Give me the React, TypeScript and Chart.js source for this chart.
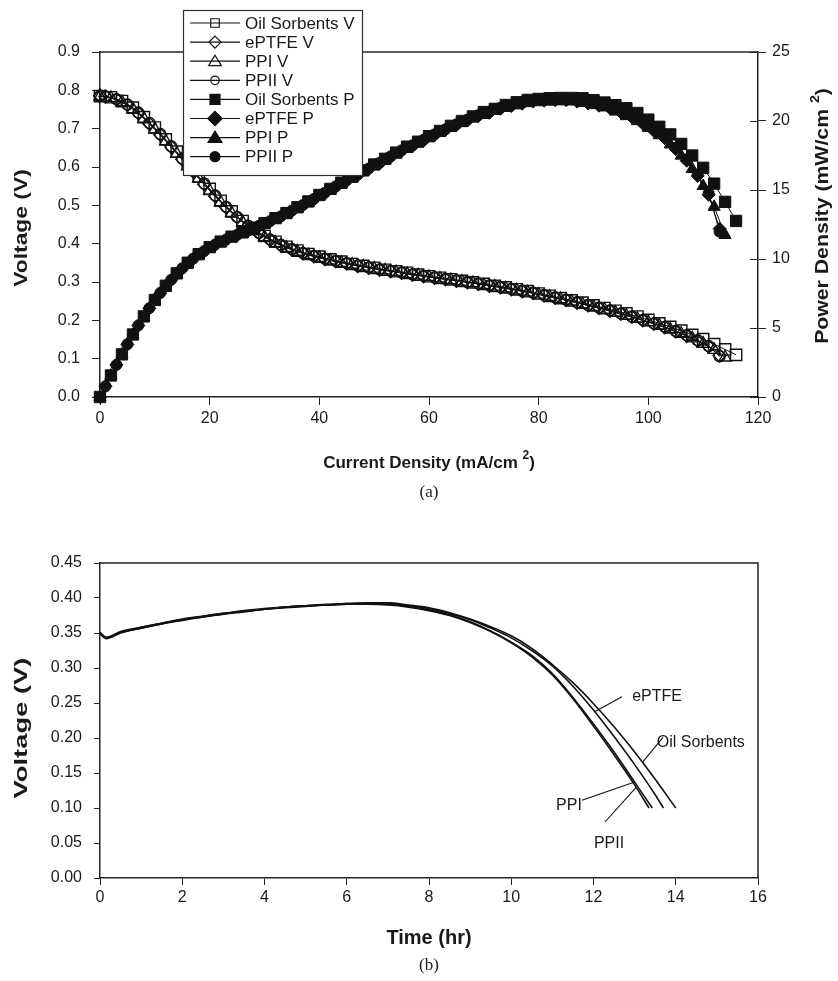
import React, { useEffect, useRef } from 'react';
import { Chart, registerables } from 'chart.js';

Chart.register(...registerables);

const SANS = "'Liberation Sans', Arial, Helvetica, sans-serif";
const SERIF = "'Liberation Serif', 'Times New Roman', serif";
const INK = '#111111';
const AXIS = '#222222';
const TEXT = '#1a1a1a';

// ---------------- Panel (a): polarization / power density ----------------
const CURRENT_OIL = [0, 2, 4, 6, 8, 10, 12, 14, 16, 18, 20, 22, 24, 26, 28, 30, 32, 34, 36, 38, 40, 42, 44, 46, 48, 50, 52, 54, 56, 58, 60, 62, 64, 66, 68, 70, 72, 74, 76, 78, 80, 82, 84, 86, 88, 90, 92, 94, 96, 98, 100, 102, 104, 106, 108, 110, 112, 114, 116];
const CURRENT_EVEN = [0, 2, 4, 6, 8, 10, 12, 14, 16, 18, 20, 22, 24, 26, 28, 30, 32, 34, 36, 38, 40, 42, 44, 46, 48, 50, 52, 54, 56, 58, 60, 62, 64, 66, 68, 70, 72, 74, 76, 78, 80, 82, 84, 86, 88, 90, 92, 94, 96, 98, 100, 102, 104, 106, 108, 110, 112, 114];
const CURRENT_ODD = [0, 1, 3, 5, 7, 9, 11, 13, 15, 17, 19, 21, 23, 25, 27, 29, 31, 33, 35, 37, 39, 41, 43, 45, 47, 49, 51, 53, 55, 57, 59, 61, 63, 65, 67, 69, 71, 73, 75, 77, 79, 81, 83, 85, 87, 89, 91, 93, 95, 97, 99, 101, 103, 105, 107, 109, 111, 113];

const V_OIL = [0.785, 0.782, 0.772, 0.755, 0.730, 0.703, 0.672, 0.640, 0.608, 0.575, 0.543, 0.512, 0.484, 0.459, 0.438, 0.420, 0.405, 0.392, 0.382, 0.373, 0.366, 0.359, 0.353, 0.347, 0.342, 0.337, 0.332, 0.328, 0.324, 0.319, 0.315, 0.311, 0.307, 0.303, 0.299, 0.295, 0.290, 0.286, 0.281, 0.276, 0.270, 0.264, 0.258, 0.252, 0.246, 0.239, 0.232, 0.225, 0.218, 0.210, 0.201, 0.192, 0.183, 0.173, 0.162, 0.151, 0.138, 0.124, 0.110];
const V_EPTFE = [0.786, 0.784, 0.776, 0.762, 0.740, 0.713, 0.684, 0.652, 0.620, 0.588, 0.555, 0.524, 0.495, 0.469, 0.446, 0.427, 0.410, 0.396, 0.385, 0.375, 0.367, 0.360, 0.354, 0.348, 0.342, 0.337, 0.332, 0.328, 0.324, 0.319, 0.315, 0.311, 0.307, 0.303, 0.299, 0.295, 0.290, 0.286, 0.281, 0.276, 0.271, 0.265, 0.259, 0.253, 0.246, 0.239, 0.232, 0.225, 0.217, 0.209, 0.200, 0.191, 0.182, 0.171, 0.160, 0.147, 0.132, 0.108];
const V_PPI = [0.784, 0.780, 0.769, 0.751, 0.726, 0.698, 0.667, 0.635, 0.602, 0.570, 0.538, 0.508, 0.480, 0.456, 0.435, 0.417, 0.402, 0.389, 0.379, 0.370, 0.363, 0.356, 0.350, 0.345, 0.340, 0.335, 0.330, 0.326, 0.321, 0.317, 0.313, 0.309, 0.305, 0.301, 0.297, 0.292, 0.288, 0.283, 0.278, 0.273, 0.267, 0.261, 0.255, 0.249, 0.242, 0.235, 0.228, 0.220, 0.212, 0.204, 0.195, 0.186, 0.176, 0.165, 0.153, 0.139, 0.123, 0.103];
const V_PPII = [0.785, 0.784, 0.777, 0.763, 0.742, 0.715, 0.686, 0.654, 0.622, 0.590, 0.557, 0.526, 0.496, 0.470, 0.447, 0.428, 0.411, 0.397, 0.386, 0.376, 0.368, 0.361, 0.355, 0.349, 0.343, 0.338, 0.333, 0.329, 0.325, 0.320, 0.316, 0.312, 0.308, 0.304, 0.300, 0.296, 0.291, 0.287, 0.282, 0.277, 0.272, 0.266, 0.260, 0.254, 0.247, 0.240, 0.233, 0.226, 0.218, 0.210, 0.201, 0.192, 0.183, 0.172, 0.161, 0.148, 0.133, 0.106];

const P_OIL = [0, 1.56, 3.09, 4.53, 5.84, 7.03, 8.06, 8.96, 9.73, 10.35, 10.86, 11.26, 11.62, 11.93, 12.26, 12.60, 12.96, 13.33, 13.75, 14.17, 14.64, 15.08, 15.53, 15.96, 16.42, 16.85, 17.26, 17.71, 18.14, 18.50, 18.90, 19.28, 19.65, 20.00, 20.33, 20.65, 20.88, 21.16, 21.36, 21.53, 21.60, 21.65, 21.67, 21.67, 21.65, 21.51, 21.34, 21.15, 20.93, 20.58, 20.10, 19.58, 19.03, 18.34, 17.50, 16.61, 15.46, 14.14, 12.76];
const P_EPTFE = [0, 0.78, 2.33, 3.81, 5.18, 6.42, 7.52, 8.48, 9.30, 10.00, 10.55, 11.00, 11.39, 11.73, 12.04, 12.38, 12.71, 13.07, 13.48, 13.88, 14.31, 14.76, 15.22, 15.66, 16.07, 16.51, 16.93, 17.38, 17.82, 18.18, 18.59, 18.97, 19.34, 19.70, 20.03, 20.36, 20.59, 20.88, 21.08, 21.25, 21.41, 21.47, 21.50, 21.51, 21.40, 21.27, 21.11, 20.93, 20.62, 20.27, 19.80, 19.29, 18.75, 17.96, 17.12, 16.02, 14.65, 12.20];
const P_PPI = [0, 1.56, 3.08, 4.51, 5.81, 6.98, 8.00, 8.89, 9.63, 10.26, 10.76, 11.18, 11.52, 11.86, 12.18, 12.51, 12.86, 13.23, 13.64, 14.06, 14.52, 14.95, 15.40, 15.87, 16.32, 16.75, 17.16, 17.60, 17.98, 18.39, 18.78, 19.16, 19.52, 19.87, 20.20, 20.44, 20.74, 20.94, 21.13, 21.29, 21.36, 21.40, 21.42, 21.41, 21.30, 21.15, 20.98, 20.68, 20.35, 19.99, 19.50, 18.97, 18.30, 17.49, 16.52, 15.29, 13.78, 11.74];
const P_PPII = [0, 0.78, 2.33, 3.82, 5.19, 6.44, 7.55, 8.50, 9.33, 10.03, 10.58, 11.05, 11.41, 11.75, 12.07, 12.41, 12.74, 13.10, 13.51, 13.91, 14.35, 14.80, 15.27, 15.71, 16.12, 16.56, 16.98, 17.44, 17.88, 18.24, 18.64, 19.03, 19.40, 19.76, 20.10, 20.42, 20.66, 20.95, 21.15, 21.33, 21.49, 21.55, 21.58, 21.59, 21.49, 21.36, 21.20, 21.02, 20.71, 20.37, 19.90, 19.39, 18.85, 18.06, 17.23, 16.13, 14.76, 11.98];

const TOP_LABELS = ['Oil Sorbents V', 'ePTFE V', 'PPI V', 'PPII V', 'Oil Sorbents P', 'ePTFE P', 'PPI P', 'PPII P'];
const TOP_X_TICKS = { min: 0, max: 120, step: 20 };
const TOP_V_TICKS = { min: 0, max: 0.9, step: 0.1 };
const TOP_P_TICKS = { min: 0, max: 25, step: 5 };

// ---------------- Panel (b): voltage vs time ----------------
const TIME_OIL = [0, 0.15, 0.5, 1, 1.5, 2, 2.5, 3, 3.5, 4, 4.5, 5, 5.5, 6, 6.5, 7, 7.5, 8, 8.5, 9, 9.5, 10, 10.5, 11, 11.5, 12, 12.5, 13, 13.5, 14];
const TIME_EPTFE = [0, 0.15, 0.5, 1, 1.5, 2, 2.5, 3, 3.5, 4, 4.5, 5, 5.5, 6, 6.5, 7, 7.5, 8, 8.5, 9, 9.5, 10, 10.5, 11, 11.5, 12, 12.5, 13, 13.5, 13.7];
const TIME_PPI = [0, 0.15, 0.5, 1, 1.5, 2, 2.5, 3, 3.5, 4, 4.5, 5, 5.5, 6, 6.5, 7, 7.5, 8, 8.5, 9, 9.5, 10, 10.5, 11, 11.5, 12, 12.5, 13, 13.43];
const TIME_PPII = [0, 0.15, 0.5, 1, 1.5, 2, 2.5, 3, 3.5, 4, 4.5, 5, 5.5, 6, 6.5, 7, 7.5, 8, 8.5, 9, 9.5, 10, 10.5, 11, 11.5, 12, 12.5, 13, 13.35];

const VOLT_OIL = [0.350, 0.343, 0.351, 0.358, 0.364, 0.370, 0.374, 0.378, 0.382, 0.385, 0.387, 0.389, 0.391, 0.392, 0.393, 0.393, 0.390, 0.386, 0.379, 0.370, 0.359, 0.346, 0.328, 0.305, 0.279, 0.249, 0.216, 0.180, 0.141, 0.100];
const VOLT_EPTFE = [0.351, 0.344, 0.352, 0.358, 0.364, 0.369, 0.374, 0.378, 0.381, 0.384, 0.387, 0.389, 0.390, 0.392, 0.392, 0.392, 0.389, 0.385, 0.378, 0.369, 0.357, 0.343, 0.325, 0.303, 0.274, 0.240, 0.202, 0.162, 0.119, 0.100];
const VOLT_PPI = [0.350, 0.343, 0.351, 0.357, 0.363, 0.369, 0.373, 0.377, 0.381, 0.384, 0.387, 0.389, 0.390, 0.391, 0.392, 0.391, 0.388, 0.383, 0.376, 0.366, 0.353, 0.337, 0.318, 0.292, 0.258, 0.220, 0.180, 0.137, 0.100];
const VOLT_PPII = [0.349, 0.342, 0.350, 0.357, 0.363, 0.368, 0.373, 0.377, 0.380, 0.384, 0.386, 0.388, 0.390, 0.391, 0.391, 0.390, 0.387, 0.382, 0.375, 0.365, 0.352, 0.336, 0.316, 0.290, 0.256, 0.217, 0.176, 0.133, 0.100];

const BOTTOM_NAMES = ['Oil Sorbents', 'ePTFE', 'PPI', 'PPII'];
const BOTTOM_X_TICKS = { min: 0, max: 16, step: 2 };
const BOTTOM_Y_TICKS = { min: 0, max: 0.45, step: 0.05 };

// label callouts for panel (b), in data coordinates: point on curve -> end of leader, text anchor
const BOTTOM_CALLOUTS = [
  { text: 'ePTFE', curve: [12.04, 0.238], end: [12.69, 0.259], at: [12.94, 0.259] },
  { text: 'Oil Sorbents', curve: [13.2, 0.166], end: [13.69, 0.201], at: [13.54, 0.193] },
  { text: 'PPI', curve: [13.0, 0.137], end: [11.72, 0.111], at: [11.09, 0.103] },
  { text: 'PPII', curve: [13.03, 0.129], end: [12.28, 0.080], at: [12.01, 0.049] },
];

// ------------------------------------------------------------------------
const zip = (xs: number[], ys: number[]) => ys.map((y, i) => ({ x: xs[i], y }));

type Rich = { t: string; sup?: boolean };

function drawRich(ctx: CanvasRenderingContext2D, parts: Rich[], cx: number, cy: number, size: number, rotate: boolean, stretch = 1) {
  ctx.save();
  ctx.translate(cx, cy);
  if (rotate) ctx.rotate(-Math.PI / 2);
  ctx.scale(stretch, 1);
  const fonts = parts.map((p) => `bold ${p.sup ? Math.round(size * 0.68) : size}px ${SANS}`);
  const widths = parts.map((p, i) => {
    ctx.font = fonts[i];
    return ctx.measureText(p.t).width;
  });
  const total = widths.reduce((a, b) => a + b, 0);
  let x = -total / 2;
  ctx.fillStyle = TEXT;
  ctx.textAlign = 'left';
  ctx.textBaseline = 'middle';
  parts.forEach((p, i) => {
    ctx.font = fonts[i];
    ctx.fillText(p.t, x, p.sup ? -size * 0.42 : 0);
    x += widths[i];
  });
  ctx.restore();
}

function drawMarker(ctx: CanvasRenderingContext2D, style: string, x: number, y: number, s: number, filled: boolean) {
  ctx.beginPath();
  if (style === 'rect') {
    ctx.rect(x - s / 2, y - s / 2, s, s);
  } else if (style === 'rectRot') {
    const h = s * 0.6;
    ctx.moveTo(x, y - h);
    ctx.lineTo(x + h, y);
    ctx.lineTo(x, y + h);
    ctx.lineTo(x - h, y);
    ctx.closePath();
  } else if (style === 'triangle') {
    const h = s * 0.9;
    ctx.moveTo(x, y - h * 0.6);
    ctx.lineTo(x + s * 0.58, y + h * 0.45);
    ctx.lineTo(x - s * 0.58, y + h * 0.45);
    ctx.closePath();
  } else {
    ctx.arc(x, y, s / 2, 0, Math.PI * 2);
  }
  if (filled) {
    ctx.fillStyle = INK;
    ctx.fill();
  }
  ctx.strokeStyle = INK;
  ctx.lineWidth = 1.2;
  ctx.stroke();
}

const STYLES = ['rect', 'rectRot', 'triangle', 'circle'];
const RADII = [8, 6.5, 7, 5.5];

function axisCommon(tickLength: number) {
  return {
    grid: { display: true, drawOnChartArea: false, drawTicks: true, tickLength, color: AXIS, lineWidth: 1 },
    border: { display: true, color: AXIS, width: 1.5 },
  };
}

function buildTop(): any {
  const vSets = [V_OIL, V_EPTFE, V_PPI, V_PPII];
  const pSets = [P_OIL, P_EPTFE, P_PPI, P_PPII];
  const xSets = [CURRENT_OIL, CURRENT_ODD, CURRENT_EVEN, CURRENT_ODD];
  const datasets: any[] = [];
  vSets.forEach((v, i) => {
    datasets.push({
      label: TOP_LABELS[i],
      data: zip(xSets[i], v),
      yAxisID: 'y',
      borderColor: INK,
      borderWidth: 1,
      pointStyle: STYLES[i],
      pointRadius: RADII[i],
      pointBorderWidth: 1.4,
      pointBorderColor: INK,
      pointBackgroundColor: 'rgba(0,0,0,0)',
      clip: false,
    });
  });
  pSets.forEach((p, i) => {
    datasets.push({
      label: TOP_LABELS[i + 4],
      data: zip(xSets[i], p),
      yAxisID: 'y1',
      borderColor: INK,
      borderWidth: 1,
      pointStyle: STYLES[i],
      pointRadius: RADII[i],
      pointBorderWidth: 1,
      pointBorderColor: INK,
      pointBackgroundColor: INK,
      clip: false,
    });
  });

  const decor = {
    id: 'topDecor',
    afterDraw(chart: any) {
      const { ctx, chartArea } = chart;
      const { left, right, top } = chartArea;
      ctx.save();
      ctx.strokeStyle = AXIS;
      ctx.lineWidth = 1.5;
      ctx.beginPath();
      ctx.moveTo(left, top);
      ctx.lineTo(right, top);
      ctx.stroke();
      const y1 = chart.scales.y1;
      ctx.lineWidth = 1;
      y1.ticks.forEach((t: any) => {
        const py = Math.round(y1.getPixelForValue(t.value)) + 0.5;
        ctx.beginPath();
        ctx.moveTo(right - 8, py);
        ctx.lineTo(right, py);
        ctx.stroke();
      });
      ctx.restore();

      drawRich(ctx, [{ t: 'Voltage (V)' }], 22, 228, 18, true, 1.27);
      drawRich(ctx, [{ t: 'Power Density (mW/cm ' }, { t: '2', sup: true }, { t: ')' }], 823, 216, 18, true, 1.18);
      drawRich(ctx, [{ t: 'Current Density (mA/cm ' }, { t: '2', sup: true }, { t: ')' }], (left + chartArea.right) / 2, 463, 17, false);
      ctx.save();
      ctx.font = `17px ${SERIF}`;
      ctx.fillStyle = TEXT;
      ctx.textAlign = 'center';
      ctx.textBaseline = 'middle';
      ctx.fillText('(a)', (left + right) / 2, 493);
      ctx.restore();

      // legend box (covers the plot beneath it)
      const lx0 = 183, ly0 = 10, lx1 = 362, ly1 = 175;
      ctx.save();
      ctx.fillStyle = '#ffffff';
      ctx.fillRect(lx0, ly0, lx1 - lx0, ly1 - ly0);
      ctx.strokeStyle = '#333';
      ctx.lineWidth = 1.2;
      ctx.strokeRect(lx0 + 0.5, ly0 + 0.5, lx1 - lx0, ly1 - ly0);
      ctx.font = `17px ${SANS}`;
      ctx.textAlign = 'left';
      ctx.textBaseline = 'middle';
      TOP_LABELS.forEach((lab, i) => {
        const ry = 23 + i * 19.1;
        ctx.strokeStyle = INK;
        ctx.lineWidth = 1.2;
        ctx.beginPath();
        ctx.moveTo(190, ry);
        ctx.lineTo(240, ry);
        ctx.stroke();
        const filled = i >= 4;
        const k = i % 4;
        const sizes = filled ? [10, 12, 12, 10] : [8.5, 10, 11, 8.5];
        drawMarker(ctx, STYLES[k], 215, ry, sizes[k], filled);
        ctx.fillStyle = TEXT;
        ctx.fillText(lab, 245, ry + 1);
      });
      ctx.restore();
    },
  };

  return {
    type: 'line',
    data: { datasets },
    options: {
      responsive: false,
      animation: false,
      devicePixelRatio: 1,
      events: [],
      layout: { padding: { top: 52, left: 0, right: 0, bottom: 0 } },
      plugins: { legend: { display: false }, tooltip: { enabled: false } },
      scales: {
        x: {
          type: 'linear',
          min: TOP_X_TICKS.min,
          max: TOP_X_TICKS.max,
          ...axisCommon(8),
          ticks: { stepSize: TOP_X_TICKS.step, color: TEXT, font: { family: SANS, size: 16 }, padding: 4, maxRotation: 0, autoSkip: false },
          afterFit: (s: any) => { s.height = 103; },
        },
        y: {
          type: 'linear',
          position: 'left',
          min: TOP_V_TICKS.min,
          max: TOP_V_TICKS.max,
          ...axisCommon(8),
          ticks: { stepSize: TOP_V_TICKS.step, color: TEXT, font: { family: SANS, size: 16 }, padding: 12, callback: (v: any) => Number(v).toFixed(1) },
          afterFit: (s: any) => { s.width = 100; },
        },
        y1: {
          type: 'linear',
          position: 'right',
          min: TOP_P_TICKS.min,
          max: TOP_P_TICKS.max,
          ...axisCommon(8),
          ticks: { stepSize: TOP_P_TICKS.step, color: TEXT, font: { family: SANS, size: 16 }, padding: 6, callback: (v: any) => String(Math.round(Number(v))) },
          afterFit: (s: any) => { s.width = 80; },
        },
      },
    },
    plugins: [decor],
  };
}

function buildBottom(): any {
  const times = [TIME_OIL, TIME_EPTFE, TIME_PPI, TIME_PPII];
  const volts = [VOLT_OIL, VOLT_EPTFE, VOLT_PPI, VOLT_PPII];
  const datasets = volts.map((v, i) => ({
    label: BOTTOM_NAMES[i],
    data: zip(times[i], v),
    borderColor: INK,
    borderWidth: 1.6,
    pointRadius: 0,
    cubicInterpolationMode: 'monotone',
  }));

  const decor = {
    id: 'botDecor',
    afterDraw(chart: any) {
      const { ctx, chartArea, scales } = chart;
      const { left, right, top, bottom } = chartArea;
      const xs = scales.x, ys = scales.y;
      ctx.save();
      ctx.strokeStyle = AXIS;
      ctx.lineWidth = 1.5;
      ctx.beginPath();
      ctx.moveTo(left, top);
      ctx.lineTo(right, top);
      ctx.lineTo(right, bottom);
      ctx.stroke();

      ctx.lineWidth = 1.1;
      ctx.strokeStyle = INK;
      ctx.font = `16px ${SANS}`;
      ctx.fillStyle = TEXT;
      ctx.textAlign = 'left';
      ctx.textBaseline = 'middle';
      BOTTOM_CALLOUTS.forEach((c) => {
        ctx.beginPath();
        ctx.moveTo(xs.getPixelForValue(c.curve[0]), ys.getPixelForValue(c.curve[1]));
        ctx.lineTo(xs.getPixelForValue(c.end[0]), ys.getPixelForValue(c.end[1]));
        ctx.stroke();
        ctx.fillText(c.text, xs.getPixelForValue(c.at[0]), ys.getPixelForValue(c.at[1]));
      });
      ctx.restore();

      drawRich(ctx, [{ t: 'Voltage (V)' }], 22, 228, 18, true, 1.52);
      drawRich(ctx, [{ t: 'Time (hr)' }], (left + right) / 2, 438, 20, false);
      ctx.save();
      ctx.font = `17px ${SERIF}`;
      ctx.fillStyle = TEXT;
      ctx.textAlign = 'center';
      ctx.textBaseline = 'middle';
      ctx.fillText('(b)', (left + right) / 2, 466);
      ctx.restore();
    },
  };

  return {
    type: 'line',
    data: { datasets },
    options: {
      responsive: false,
      animation: false,
      devicePixelRatio: 1,
      events: [],
      layout: { padding: { top: 63, left: 0, right: 80, bottom: 0 } },
      plugins: { legend: { display: false }, tooltip: { enabled: false } },
      scales: {
        x: {
          type: 'linear',
          min: BOTTOM_X_TICKS.min,
          max: BOTTOM_X_TICKS.max,
          ...axisCommon(7),
          ticks: { stepSize: BOTTOM_X_TICKS.step, color: TEXT, font: { family: SANS, size: 16 }, padding: 3, maxRotation: 0, autoSkip: false },
          afterFit: (s: any) => { s.height = 103; },
        },
        y: {
          type: 'linear',
          min: BOTTOM_Y_TICKS.min,
          max: BOTTOM_Y_TICKS.max,
          ...axisCommon(6),
          ticks: { stepSize: BOTTOM_Y_TICKS.step, color: TEXT, font: { family: SANS, size: 16 }, padding: 12, autoSkip: false, callback: (v: any) => Number(v).toFixed(2) },
          afterFit: (s: any) => { s.width = 100; },
        },
      },
    },
    plugins: [decor],
  };
}

export default function App() {
  const topRef = useRef<HTMLCanvasElement>(null);
  const botRef = useRef<HTMLCanvasElement>(null);

  useEffect(() => {
    const c1 = new Chart(topRef.current as HTMLCanvasElement, buildTop());
    const c2 = new Chart(botRef.current as HTMLCanvasElement, buildBottom());
    return () => {
      c1.destroy();
      c2.destroy();
    };
  }, []);

  return (
    <div style={{ position: 'absolute', left: 0, top: 0, width: 838, height: 981, background: '#ffffff' }}>
      <canvas ref={topRef} width={838} height={500} style={{ display: 'block', width: 838, height: 500 }} />
      <canvas ref={botRef} width={838} height={481} style={{ display: 'block', width: 838, height: 481 }} />
    </div>
  );
}
